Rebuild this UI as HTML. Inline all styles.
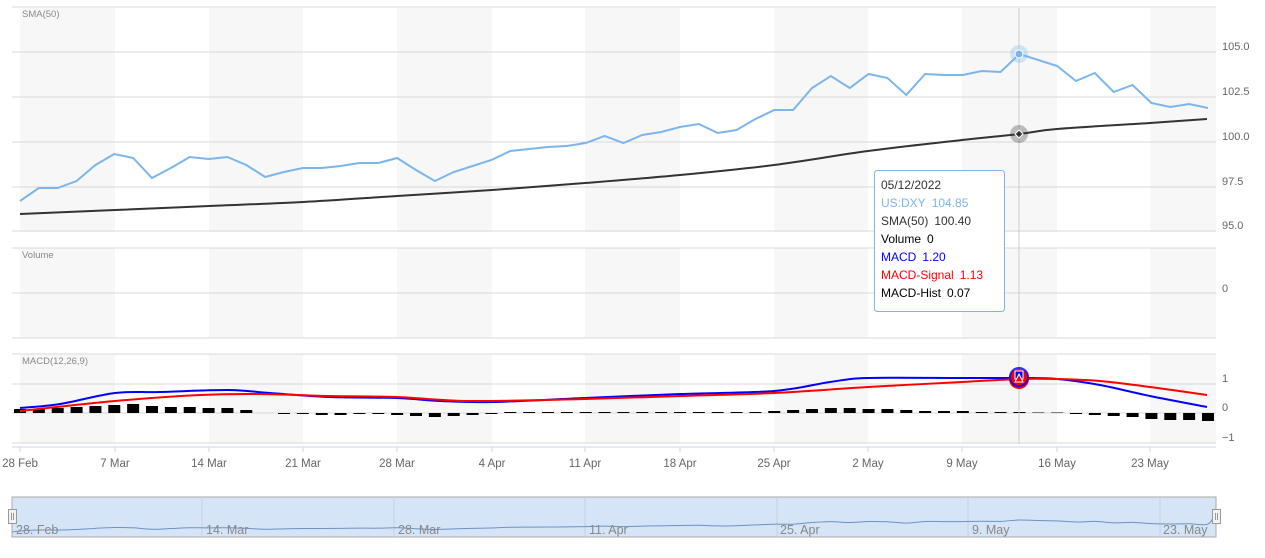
<!DOCTYPE html>
<html><head><meta charset="utf-8"><style>
body{margin:0;background:#fff;width:1265px;height:553px;overflow:hidden;font-family:"Liberation Sans",sans-serif}
svg text{font-family:"Liberation Sans",sans-serif}
</style></head><body>
<svg id="s" width="1265" height="553" xmlns="http://www.w3.org/2000/svg"></svg>
<script>
const S=document.getElementById('s');let h='';
const X=i=>20+i*18.857;
function smooth(p){let d=`M${p[0][0]},${p[0][1]}`;for(let i=0;i<p.length-1;i++){const a=p[i-1]||p[i],b=p[i],c=p[i+1],e=p[i+2]||c;
const c1x=b[0]+(c[0]-a[0])/6,c1y=b[1]+(c[1]-a[1])/6,c2x=c[0]-(e[0]-b[0])/6,c2y=c[1]-(e[1]-b[1])/6;d+=` C${c1x},${c1y} ${c2x},${c2y} ${c[0]},${c[1]}`;}return d;}
[[20,115],[209,303],[397,492],[585,680],[774,868],[962,1057],[1150,1216]].forEach(b=>{
 h+=`<rect x="${b[0]}" y="8" width="${b[1]-b[0]}" height="224" fill="#f7f7f7"/>`;
 h+=`<rect x="${b[0]}" y="248" width="${b[1]-b[0]}" height="90" fill="#f7f7f7"/>`;
 h+=`<rect x="${b[0]}" y="354" width="${b[1]-b[0]}" height="90" fill="#f7f7f7"/>`;});
[7,52,97,142,187,231,248,293,338,354,384,413,443].forEach(y=>h+=`<line x1="12" x2="1216" y1="${y}" y2="${y}" stroke="#d8d8d8"/>`);
h+=`<line x1="12" x2="1216" y1="447" y2="447" stroke="#ccd6eb"/>`;
[["105.0",52],["102.5",97],["100.0",142],["97.5",187],["95.0",231]].forEach(a=>h+=`<text x="1222" y="${a[1]-2}" font-size="11" fill="#666">${a[0]}</text>`);
h+=`<text x="1222" y="292" font-size="11" fill="#666">0</text>`;
[["1",384],["0",413],["−1",443]].forEach(a=>h+=`<text x="1222" y="${a[1]-2}" font-size="11" fill="#666">${a[0]}</text>`);
h+=`<text x="22" y="17" font-size="9.5" fill="#888">SMA(50)</text><text x="22" y="258" font-size="9.5" fill="#888">Volume</text><text x="22" y="364" font-size="9.5" fill="#888">MACD(12,26,9)</text>`;
const lab=["28 Feb","7 Mar","14 Mar","21 Mar","28 Mar","4 Apr","11 Apr","18 Apr","25 Apr","2 May","9 May","16 May","23 May"];
const tx=[20,115,209,303,397,492,585,680,774,868,962,1057,1150];
lab.forEach((l,i)=>{h+=`<line x1="${tx[i]}" x2="${tx[i]}" y1="447" y2="452" stroke="#ccd6eb"/><text x="${tx[i]}" y="467" font-size="11.5" fill="#666" text-anchor="middle">${l}</text>`;});
const bl=[201,188,188,181,165,154,158,178,168,157,159,157,165,177,172,168,168,166,163,163,158,170,181,172,166,160,151,149,147,146,143,136,143,135,132,127,124,133,130,119,110,110,88,76,88,74,78,95,74,75,75,71,72,54,60,66,81,73,92,85,103,107,104,108];
h+=`<polyline fill="none" stroke="#7cb5ec" stroke-width="2" points="${bl.map((y,i)=>X(i)+','+y).join(' ')}"/>`;
const sm=[[20,214],[115,210],[209,206],[303,202],[397,196],[492,190],[585,183],[680,175],[774,165],[868,151],[962,140],[1019,134],[1057,129],[1150,123],[1207,119]];
h+=`<path fill="none" stroke="#333" stroke-width="2" d="${smooth(sm)}"/>`;
const hs=[4,4,5,6,7,8,9,7,6,6,5,5,3,0,-1,-1,-2,-2,-1,-1,-2,-3,-4,-3,-2,-1,1,1,1,1,1,1,1,1,1,1,1,1,1,1,2,3,4,5,5,4,4,3,2,2,2,1,1,1,0.5,0.5,-1,-2,-3,-4,-6,-7,-7,-8];
hs.forEach((v,i)=>{if(v!=0){const y=v>0?413-v:413;h+=`<rect x="${X(i)-6}" y="${y}" width="12" height="${Math.abs(v)}" fill="#000"/>`;}});
const mb=[[20,408],[60,404],[115,393],[160,392],[228,390],[270,393],[330,397],[397,398],[440,401],[492,402],[585,398],[680,394],[774,391],[830,382],[868,378],[962,378],[1019,378],[1057,379],[1100,385],[1150,396],[1207,407]];
const mr=[[20,411],[115,401],[200,395],[260,394],[330,396],[397,397],[470,401],[585,399],[680,396],[774,393],[868,387],[962,382],[1019,379],[1057,379],[1100,381],[1150,387],[1207,395]];
h+=`<path fill="none" stroke="#0000ff" stroke-width="2" d="${smooth(mb)}"/>`;
h+=`<path fill="none" stroke="#ff0000" stroke-width="2" d="${smooth(mr)}"/>`;
h+=`<line x1="1019" x2="1019" y1="8" y2="444" stroke="#ccc"/>`;
h+=`<circle cx="1019" cy="54" r="9" fill="#7cb5ec" opacity="0.3"/><circle cx="1019" cy="54" r="4" fill="#7cb5ec" stroke="#fff"/>`;
h+=`<circle cx="1019" cy="134" r="9" fill="#333" opacity="0.3"/><path d="M1019 130 L1023 134 L1019 138 L1015 134Z" fill="#333" stroke="#fff"/>`;
h+=`<circle cx="1019" cy="379" r="10" fill="#ff0000"/><circle cx="1019" cy="377" r="9" fill="none" stroke="#0000ff" stroke-width="2" opacity="0.8"/><rect x="1015" y="371" width="8" height="8" fill="#0000ff" stroke="#fff"/><path d="M1019 374 L1023 382 L1015 382Z" fill="#ff0000" stroke="#fff"/>`;
h+=`<rect x="874.5" y="170.5" width="130" height="141" rx="3" fill="#fff" fill-opacity="0.92" stroke="#7cb5ec"/>`;
const tt=[["05/12/2022","#333",""],["US:DXY","#7cb5ec","104.85"],["SMA(50)","#333","100.40"],["Volume","#000","0"],["MACD","#0000ff","1.20"],["MACD-Signal","#ff0000","1.13"],["MACD-Hist","#000","0.07"]];
tt.forEach((t,i)=>h+=`<text x="881" y="${189+i*18}" font-size="12" fill="${t[1]}">${t[0]}<tspan dx="6">${t[2]}</tspan></text>`);
h+=`<rect x="12" y="497" width="1204" height="40" fill="#d5e4f6" stroke="#aaa"/>`;
[202,394,585,777,968,1160].forEach(x=>h+=`<line x1="${x}" x2="${x}" y1="497" y2="537" stroke="#c4d2e4"/>`);
let np=[];for(let i=0;i<bl.length;i++){np.push([X(i),520+(bl[i]-54)*0.075]);}
h+=`<path fill="none" stroke="#6d93c4" stroke-width="1" d="${smooth([[12,532]].concat(np).concat([[1216,512]]))}"/>`;
[["28. Feb",16],["14. Mar",206],["28. Mar",398],["11. Apr",589],["25. Apr",780],["9. May",972],["23. May",1163]].forEach(a=>h+=`<text x="${a[1]}" y="534" font-size="12.5" fill="#888">${a[0]}</text>`);
[8,1212].forEach(x=>h+=`<rect x="${x}.5" y="509.5" width="8" height="14" fill="#f2f2f2" stroke="#999"/><line x1="${x+3.5}" x2="${x+3.5}" y1="513" y2="520" stroke="#999"/><line x1="${x+5.5}" x2="${x+5.5}" y1="513" y2="520" stroke="#999"/>`);
S.innerHTML=h;
</script>
</body></html>
